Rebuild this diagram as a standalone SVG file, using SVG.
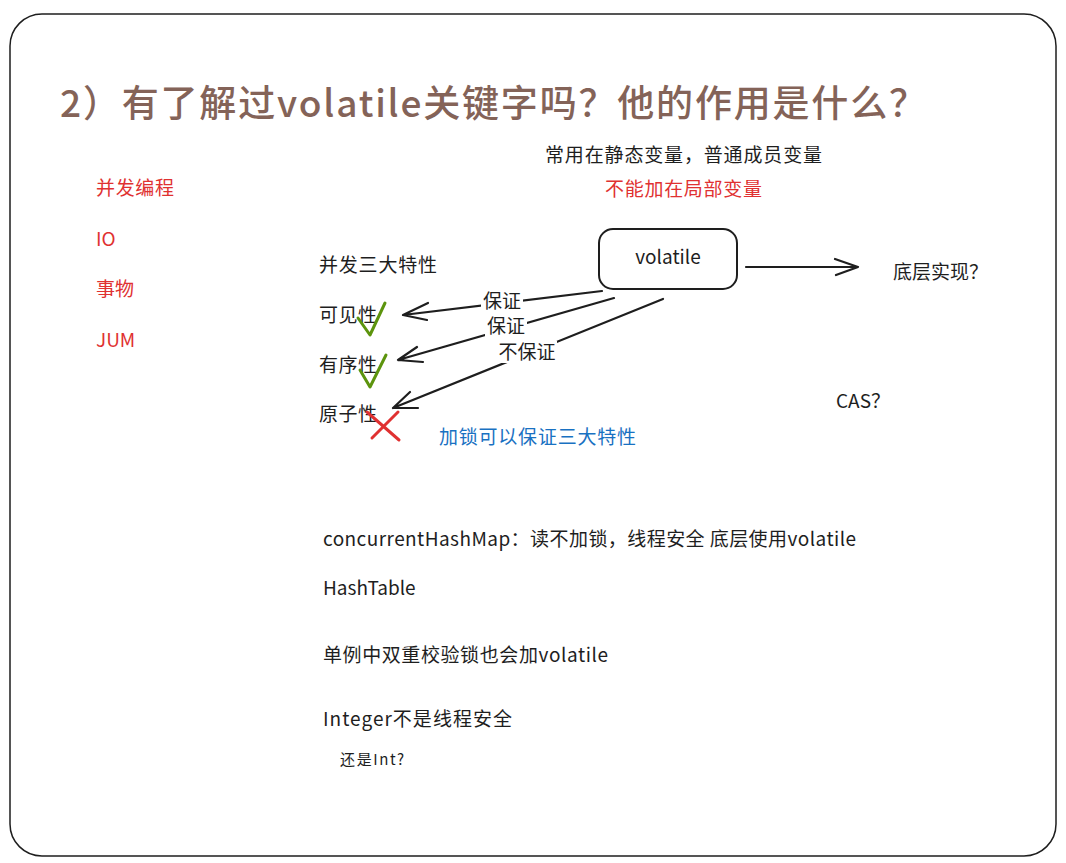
<svg xmlns="http://www.w3.org/2000/svg" width="1066" height="863" viewBox="0 0 1066 863">
<defs>
<style>
text{font-family:"Noto Sans CJK SC","Noto Sans",sans-serif;fill:#1e1e1e;font-size:19px}
.red{fill:#e03131}
.blue{fill:#1971c2}
.ln{stroke:#1e1e1e;stroke-width:2.2;fill:none;stroke-linecap:round;stroke-linejoin:round}
.lbl{fill:#fff;stroke:none}
</style>
</defs>
<rect width="1066" height="863" fill="#fff"/>
<rect x="10" y="14" width="1046" height="842" rx="32" fill="none" stroke="#1e1e1e" stroke-width="1.5"/>
<g id="title"><text x="60" y="117" style="font-size:37px;fill:#846358;font-weight:500" textLength="866">2）有了解过volatile关键字吗？他的作用是什么？</text></g>
<g id="note-static"><text x="545" y="162" textLength="277">常用在静态变量，普通成员变量</text></g>
<g id="note-local"><text class="red" x="605" y="196" textLength="157">不能加在局部变量</text></g>
<g id="left-list">
<text class="red" x="96" y="195" textLength="78">并发编程</text>
<text class="red" x="96" y="246">IO</text>
<text class="red" x="96" y="296" textLength="38">事物</text>
<text class="red" x="96" y="347">JUM</text>
</g>
<g id="props">
<text x="319" y="272" textLength="118">并发三大特性</text>
<text id="visibility" x="319" y="322" textLength="58">可见性</text>
<text id="ordering" x="319" y="372" textLength="58">有序性</text>
<text id="atomicity" x="319" y="421" textLength="58">原子性</text>
</g>
<g id="volatile-node">
<rect x="599" y="229" width="138" height="60" rx="14" fill="#fff" stroke="#1e1e1e" stroke-width="2"/>
<text x="668" y="264" text-anchor="middle">volatile</text>
</g>
<g id="impl"><text x="893" y="279" textLength="95">底层实现？</text></g>
<g id="cas"><text x="836" y="408">CAS？</text></g>
<g id="connectors">
<path class="ln" d="M746 267 L858 267 M835 259 L858 267 L836 275"/>
<path class="ln" d="M602 291 L403 315 M428 303 L403 315 L427 320"/>
<path class="ln" d="M614 298 L398 360 M417 347 L398 360 L423 362"/>
<path class="ln" d="M663 299 L393 408 M410 392 L393 408 L418 408"/>
<rect class="lbl" x="481" y="290" width="42" height="22"/>
<text x="502" y="308" text-anchor="middle">保证</text>
<rect class="lbl" x="485" y="315" width="42" height="22"/>
<text x="506" y="333" text-anchor="middle">保证</text>
<rect class="lbl" x="497" y="341" width="60" height="22"/>
<text x="527" y="359" text-anchor="middle">不保证</text>
</g>
<g id="marks">
<path d="M358 318 L370 335 L385 303" fill="none" stroke="#2f9e44" stroke-width="3" stroke-linecap="round" stroke-linejoin="round" style="stroke:#5c940d"/>
<path d="M360 370 L370 387 L386 355" fill="none" stroke="#5c940d" stroke-width="3" stroke-linecap="round" stroke-linejoin="round"/>
<path d="M367 412 L399 440 M398 412 L372 438" fill="none" stroke="#e03131" stroke-width="3" stroke-linecap="round"/>
</g>
<g id="lock-note"><text class="blue" x="439" y="444" textLength="197">加锁可以保证三大特性</text></g>
<g id="notes">
<text x="323" y="546" textLength="533">concurrentHashMap：读不加锁，线程安全 底层使用volatile</text>
<text x="323" y="595">HashTable</text>
<text x="323" y="662" textLength="285">单例中双重校验锁也会加volatile</text>
<text x="323" y="726" textLength="189">Integer不是线程安全</text>
<text x="340" y="765" style="font-size:15px" textLength="64">还是Int?</text>
</g>
</svg>
